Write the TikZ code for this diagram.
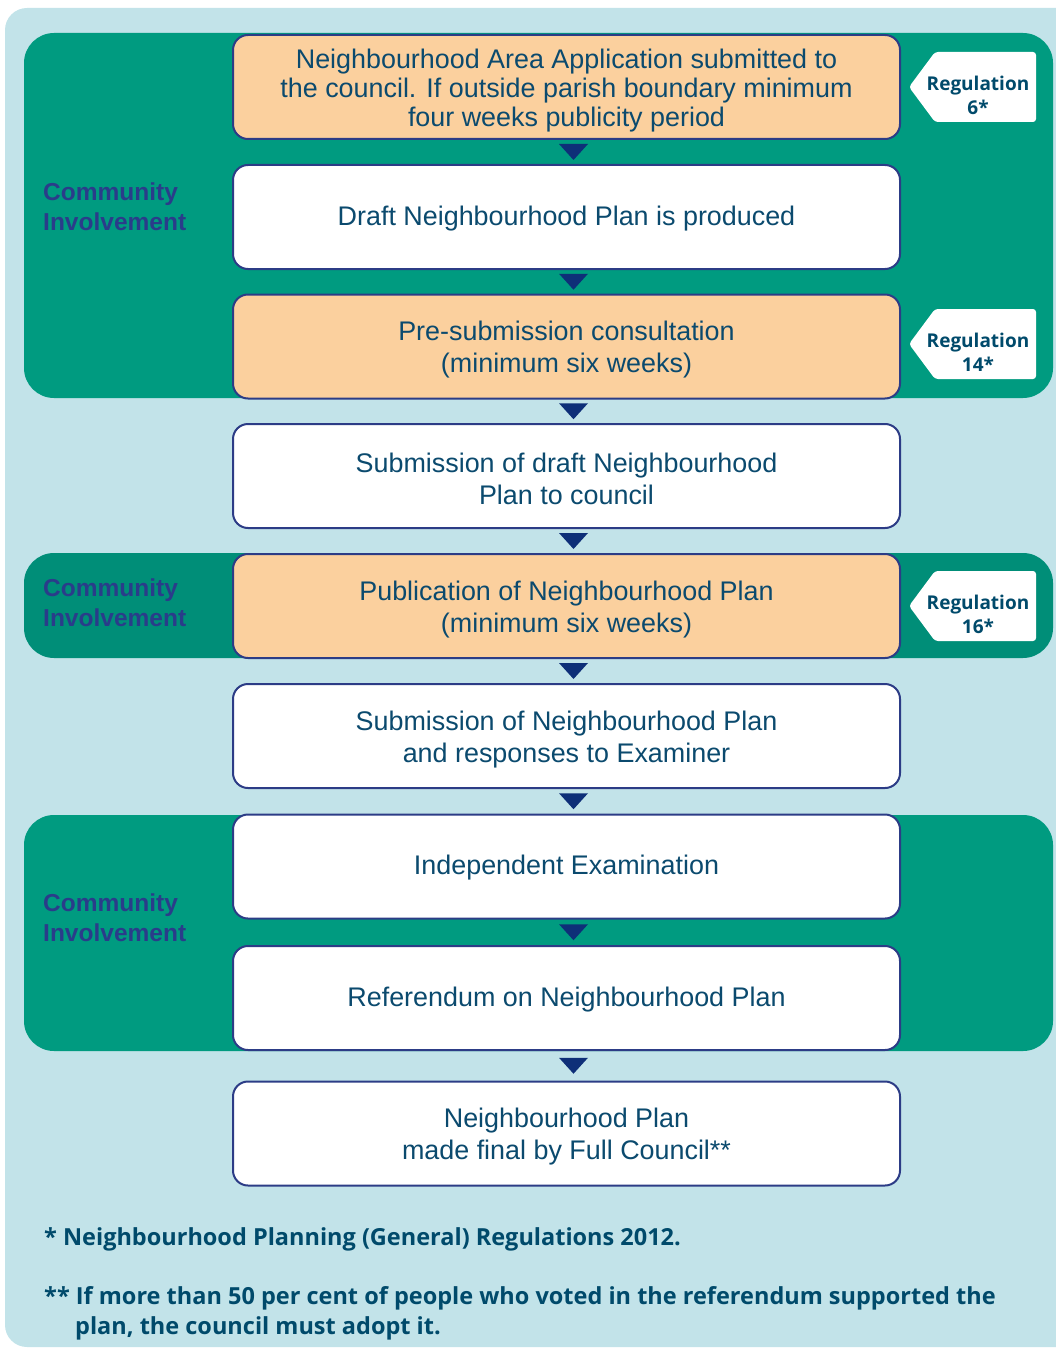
\documentclass[tikz,border=0pt]{standalone}
\usepackage{fontspec}
\setmainfont{Liberation Sans}
\newfontfamily\frut{Open Sans}
\usetikzlibrary{calc}
\definecolor{bgblue}{HTML}{C2E3E9}
\definecolor{grn}{HTML}{009B80}
\definecolor{grndark}{HTML}{008E78}
\definecolor{orng}{HTML}{FBD09E}
\definecolor{navyline}{HTML}{2C3C86}
\definecolor{navytri}{HTML}{0E2F78}
\definecolor{boxtext}{HTML}{0B4A6E}
\definecolor{citext}{HTML}{2A3C8A}
\definecolor{tagtext}{HTML}{004A6B}
\newcommand{\stmulti}{\rule{0pt}{26pt}}
\newcommand{\stsingle}{\rule{0pt}{22pt}}
\tikzset{
  stepbox/.style={rectangle, rounded corners=15pt, draw=navyline, line width=2pt,
    fill=white, minimum width=667pt, minimum height=104pt, align=center,
    text=boxtext, font=\fontsize{26.9}{32}\selectfont, inner sep=0pt},
  orangebox/.style={stepbox, fill=orng},
  grp/.style={fill=grn, rounded corners=30pt},
  cilabel/.style={anchor=west, align=left, text=citext, inner sep=0pt,
    font=\fontsize{24.5}{30}\selectfont\bfseries},
  tagtxt/.style={align=center, text=tagtext, inner sep=0pt,
    font=\fontsize{19}{24}\selectfont\frut\bfseries},
  tagshape/.style={fill=white, rounded corners=3pt},
  foot/.style={anchor=base west, text=tagtext, inner sep=0pt,
    font=\fontsize{23.5}{28}\selectfont\frut\bfseries},
  tri/.style={fill=navytri}
}
\newcommand{\flowarrow}[2]{%
  \fill[tri] ($(#1.south)!0.5!(#2.north)+(-7.5,-8)$) -- ++(29,0) -- ++(-14.5,16) -- cycle;}
\newcommand{\regtag}[3]{% name, center y, text
  \fill[tagshape] (909,#2) -- (935,#2-35) -- (1036,#2-35) -- (1036,#2+35) -- (935,#2+35) -- cycle;
  \node[tagtxt] (#1) at (978,#2+8) {#3};}
\begin{document}
\begin{tikzpicture}[x=1pt,y=-1pt]
\useasboundingbox (0,0) rectangle (1056,1348);
% background
\fill[bgblue, rounded corners=22pt] (5,8) rectangle (1090,1347);
% groups
\fill[grp] (24,33) rectangle (1053,398);
\fill[grp, fill=grndark] (24,553) rectangle (1053,658);
\fill[grp] (24,815) rectangle (1053,1051);
% boxes
\node[orangebox] (b1) at (566.5,87) {\stmulti Neighbourhood Area Application submitted to\\[-3pt] the council. If outside parish boundary minimum\\[-3pt] four weeks publicity period};
\node[stepbox] (b2) at (566.5,217) {\stsingle Draft Neighbourhood Plan is produced};
\node[orangebox] (b3) at (566.5,346.5) {\stmulti Pre-submission consultation\\(minimum six weeks)};
\node[stepbox] (b4) at (566.5,476) {\stmulti Submission of draft Neighbourhood\\Plan to council};
\node[orangebox] (b5) at (566.5,606) {\stmulti Publication of Neighbourhood Plan\\(minimum six weeks)};
\node[stepbox] (b6) at (566.5,736) {\stmulti Submission of Neighbourhood Plan\\and responses to Examiner};
\node[stepbox] (b7) at (566.5,866.5) {\stsingle Independent Examination};
\node[stepbox] (b8) at (566.5,998) {\stsingle Referendum on Neighbourhood Plan};
\node[stepbox] (b9) at (566.5,1133.5) {\stmulti Neighbourhood Plan\\made final by Full Council**};
% arrows
\flowarrow{b1}{b2}
\flowarrow{b2}{b3}
\flowarrow{b3}{b4}
\flowarrow{b4}{b5}
\flowarrow{b5}{b6}
\flowarrow{b6}{b7}
\flowarrow{b7}{b8}
\flowarrow{b8}{b9}
% community labels
\node[cilabel] (ci1) at (43,207) {Community\\Involvement};
\node[cilabel] (ci2) at (43,603) {Community\\Involvement};
\node[cilabel] (ci3) at (43,918) {Community\\Involvement};
% regulation tags
\regtag{r1}{87}{Regulation\\6*}
\regtag{r2}{344}{Regulation\\14*}
\regtag{r3}{606}{Regulation\\16*}
% footnotes
\node[foot] (f1) at (44,1245) {* Neighbourhood Planning (General) Regulations 2012.};
\node[foot] (f2) at (44,1304) {** If more than 50 per cent of people who voted in the referendum supported the};
\node[foot] (f3) at (75,1334) {plan, the council must adopt it.};
\end{tikzpicture}
\end{document}
